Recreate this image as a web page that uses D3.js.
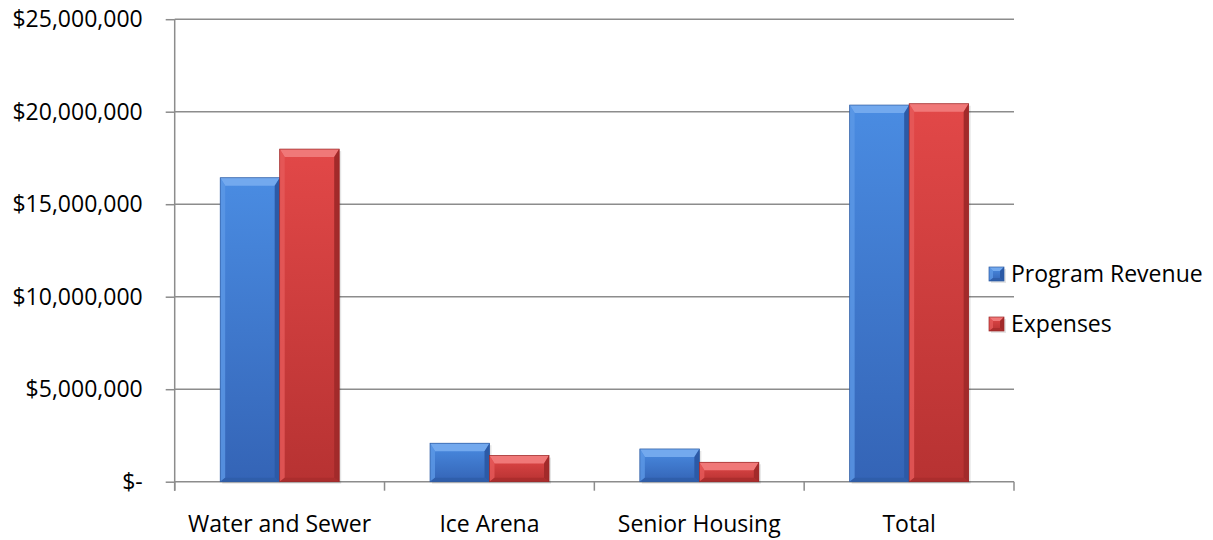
<!DOCTYPE html>
<html><head><meta charset="utf-8">
<script src="https://cdn.jsdelivr.net/npm/d3@7"></script>
<style>body{margin:0;background:#fff;} svg{display:block;font-family:"Open Sans",sans-serif;}</style>
</head><body>
<script>
const categories = ["Water and Sewer", "Ice Arena", "Senior Housing", "Total"];
const seriesNames = ["Program Revenue", "Expenses"];
const programRevenue = [16430000, 2080000, 1770000, 20360000];
const expenses = [17980000, 1410000, 1050000, 20430000];
const yTicks = [0, 5000000, 10000000, 15000000, 20000000, 25000000];

(function(){
const W = 1213, H = 540;
const svg = d3.select("body").append("svg").attr("width", W).attr("height", H);
const pL = 174.7, pR = 1014, pT = 19.2, pB = 481.7;
const FS = "23px";

const x = d3.scaleBand().domain(categories).range([pL, pR]).padding(0);
const xs = d3.scaleBand().domain(seriesNames).range([45.5, 164.5]).padding(0);
const y = d3.scaleLinear().domain([0, 25000000]).range([pB, pT]);

const colors = {
  "Program Revenue": {g0:"#4a8ce2", g1:"#3464b6", top:"#73a9ee", left:"#5d98e6", right:"#2c5aa6", bottom:"#2e5ca8", edge:"#2d5aa0", id:"gb"},
  "Expenses": {g0:"#e24848", g1:"#b73232", top:"#f07878", left:"#e65a5a", right:"#a22a2a", bottom:"#a82c2c", edge:"#9a2828", id:"gr"}
};
const defs = svg.append("defs");
Object.values(colors).forEach(c => {
  const lgd = defs.append("linearGradient").attr("id", c.id).attr("x1",0).attr("x2",0).attr("y1",0).attr("y2",1);
  lgd.append("stop").attr("offset","0%").attr("stop-color", c.g0);
  lgd.append("stop").attr("offset","100%").attr("stop-color", c.g1);
});

const fmt = v => v === 0 ? "$-" : "$" + d3.format(",")(v);

svg.append("g").selectAll("line").data(yTicks.filter(t=>t>0)).join("line")
  .attr("x1", pL).attr("x2", pR).attr("y1", d=>y(d)).attr("y2", d=>y(d))
  .attr("stroke", "#8c8c8c").attr("stroke-width", 1.5);

const yAxis = svg.append("g").attr("transform", `translate(${pL},0)`)
  .call(d3.axisLeft(y).tickValues(yTicks).tickFormat(fmt).tickSize(9).tickPadding(23));
yAxis.select(".domain").attr("stroke", "#8c8c8c").attr("stroke-width", 1.5)
  .attr("d", `M0,${pT}V${pB+9}`);
yAxis.selectAll(".tick line").attr("stroke", "#8c8c8c").attr("stroke-width", 1.5);
yAxis.selectAll(".tick text").attr("fill", "#000").style("font-size", FS).style("font-family", "'Open Sans',sans-serif");

const xAxis = svg.append("g").attr("transform", `translate(0,${pB})`)
  .call(d3.axisBottom(x).tickSize(0).tickPadding(34));
xAxis.select(".domain").attr("stroke", "#8c8c8c").attr("stroke-width", 1.5).attr("d", `M${pL},0H${pR}`);
xAxis.selectAll(".tick text").attr("fill", "#000").style("font-size", FS).style("font-family", "'Open Sans',sans-serif");
const seps = categories.map(c => x(c) + x.bandwidth()).concat([pL]);
svg.append("g").selectAll("line").data(seps).join("line")
  .attr("x1", d=>d).attr("x2", d=>d).attr("y1", pB).attr("y2", pB+9)
  .attr("stroke", "#8c8c8c").attr("stroke-width", 1.5);

const data = [];
categories.forEach((c,i) => {
  data.push({cat:c, s:"Program Revenue", v:programRevenue[i]});
  data.push({cat:c, s:"Expenses", v:expenses[i]});
});

function bevel(g, x0, y0, w, h, col, bt, bs, bb) {
  bt = Math.min(bt, h/2); bb = Math.min(bb, h/2);
  const x1 = x0 + w, y1 = y0 + h;
  g.append("rect").attr("x", x0+2).attr("y", y0+2).attr("width", w).attr("height", h).attr("fill", "rgba(0,0,0,0.10)");
  g.append("rect").attr("x", x0).attr("y", y0).attr("width", w).attr("height", h).attr("fill", `url(#${col.id})`);
  g.append("polygon").attr("points", [[x0,y0],[x1,y0],[x1-bs,y0+bt],[x0+bs,y0+bt]].join(" ")).attr("fill", col.top);
  g.append("polygon").attr("points", [[x0,y0],[x0+bs,y0+bt],[x0+bs,y1-bb],[x0,y1]].join(" ")).attr("fill", col.left).attr("opacity", 0.8);
  g.append("polygon").attr("points", [[x1,y0],[x1,y1],[x1-bs,y1-bb],[x1-bs,y0+bt]].join(" ")).attr("fill", col.right);
  g.append("polygon").attr("points", [[x0,y1],[x0+bs,y1-bb],[x1-bs,y1-bb],[x1,y1]].join(" ")).attr("fill", col.bottom).attr("opacity", 0.8);
  g.append("rect").attr("x", x0).attr("y", y0).attr("width", w).attr("height", h).attr("fill", "none").attr("stroke", col.edge).attr("stroke-width", 0.7);
}

const barsG = svg.append("g");
data.forEach(d => {
  const g = barsG.append("g");
  const x0 = x(d.cat) + xs(d.s);
  const y0 = y(d.v);
  bevel(g, x0, y0, xs.bandwidth(), pB - y0, colors[d.s], 8, 5, 4);
});

const lg = svg.append("g");
seriesNames.forEach((s,i) => {
  const cy = 274 + i*50;
  const g = lg.append("g");
  bevel(g, 989, cy-7, 15, 14, colors[s], 4, 4, 3);
  g.append("text").attr("x", 1011).attr("y", cy).attr("dy", "0.35em")
    .style("font-size", FS).attr("fill", "#000").text(s);
});
})();
</script>
</body></html>
